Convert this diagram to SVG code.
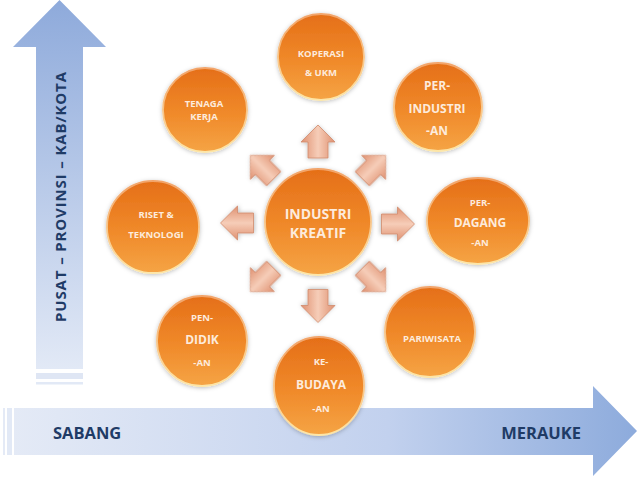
<svg xmlns="http://www.w3.org/2000/svg" width="638" height="479" viewBox="0 0 638 479">
<defs>
<linearGradient id="vg" x1="0" y1="0" x2="0" y2="1">
<stop offset="0" stop-color="#8eaadb"/>
<stop offset="1" stop-color="#e2e9f6"/>
</linearGradient>
<linearGradient id="hg" x1="0" y1="0" x2="1" y2="0">
<stop offset="0" stop-color="#e4eaf6"/>
<stop offset="0.6" stop-color="#c2d1ee"/>
<stop offset="1" stop-color="#8dabdc"/>
</linearGradient>
<linearGradient id="cg" x1="0" y1="0" x2="0" y2="1">
<stop offset="0" stop-color="#e56f18"/>
<stop offset="0.55" stop-color="#f08a2a"/>
<stop offset="1" stop-color="#f5a445"/>
</linearGradient>
<linearGradient id="cs" x1="0" y1="0" x2="0" y2="1">
<stop offset="0" stop-color="#f2a46a"/>
<stop offset="1" stop-color="#fde6a8"/>
</linearGradient>
<linearGradient id="ag" x1="0" y1="0" x2="1" y2="0">
<stop offset="0" stop-color="#df9070"/>
<stop offset="0.5" stop-color="#f6cdb8"/>
<stop offset="1" stop-color="#df9070"/>
</linearGradient>
<filter id="sh" x="-20%" y="-20%" width="140%" height="140%">
<feDropShadow dx="0" dy="1" stdDeviation="2" flood-color="#000" flood-opacity="0.25"/>
</filter>
<path id="arr" d="M0,-16.5 L17,0.5 L10,0.5 L10,16.5 L-10,16.5 L-10,0.5 L-17,0.5 Z"/>
</defs>
<style>
.c{fill:url(#cg);stroke:url(#cs);stroke-width:1.8;filter:url(#sh)}
.t{font-family:"Open Sans","Liberation Sans",sans-serif;font-weight:bold;fill:#fdebdc;text-anchor:middle;dominant-baseline:central}
.s{font-size:9.5px}
.m{font-size:12px}
.ax{font-family:"Open Sans","Liberation Sans",sans-serif;font-weight:bold;fill:#1f3b66;dominant-baseline:central}
.a{fill:url(#ag);stroke:#cf8a6c;stroke-width:0.8;filter:url(#sh)}
</style>
<rect width="638" height="479" fill="#ffffff"/>
<g id="axes">
<path d="M13,47 L59.5,0 L106,47 L83,47 L83,369 L36,369 L36,47 Z" fill="url(#vg)"/>
<rect x="36" y="373" width="47" height="6" fill="#dfe6f4"/>
<rect x="36" y="382" width="47" height="2.5" fill="#e2e9f6"/>
<path d="M14,408 L593,408 L593,386 L637,431 L593,476 L593,455 L14,455 Z" fill="url(#hg)"/>
<rect x="7" y="408" width="5" height="47" fill="#e2e9f6"/>
<rect x="3" y="408" width="2" height="47" fill="#e4eaf6"/>
<text class="ax" x="60" y="197" font-size="15" text-anchor="middle" transform="rotate(-90 60 197)" textLength="250">PUSAT – PROVINSI – KAB/KOTA</text>
<text class="ax" x="53" y="432" font-size="16.5">SABANG</text>
<text class="ax" x="581" y="432" font-size="16.5" text-anchor="end">MERAUKE</text>
</g>
<g id="connectors">
<use href="#arr" class="a" transform="translate(318,141.5)"/>
<use href="#arr" class="a" transform="translate(374,167) rotate(45)"/>
<use href="#arr" class="a" transform="translate(398,224) rotate(90)"/>
<use href="#arr" class="a" transform="translate(374,280) rotate(135)"/>
<use href="#arr" class="a" transform="translate(318,306) rotate(180)"/>
<use href="#arr" class="a" transform="translate(262,280) rotate(225)"/>
<use href="#arr" class="a" transform="translate(237,223) rotate(270)"/>
<use href="#arr" class="a" transform="translate(262,167) rotate(315)"/>
</g>
<g id="industri-kreatif">
<circle class="c" cx="318" cy="222" r="53"/>
<text class="t" x="318" y="213" font-size="14">INDUSTRI</text>
<text class="t" x="318" y="232" font-size="14">KREATIF</text>
</g>
<g id="koperasi">
<circle class="c" cx="321" cy="57" r="43"/>
<text class="t s" x="321" y="53">KOPERASI</text>
<text class="t s" x="321" y="72">&amp; UKM</text>
</g>
<g id="perindustrian">
<circle class="c" cx="438" cy="107" r="44"/>
<text class="t m" x="437" y="85" font-size="11">PER-</text>
<text class="t m" x="437" y="108">INDUSTRI</text>
<text class="t m" x="437" y="130" font-size="11">-AN</text>
</g>
<g id="tenaga-kerja">
<circle class="c" cx="205" cy="110" r="42"/>
<text class="t s" x="204" y="103">TENAGA</text>
<text class="t s" x="204" y="116">KERJA</text>
</g>
<g id="perdagangan">
<ellipse class="c" cx="478" cy="221" rx="51" ry="43"/>
<text class="t s" x="480" y="202">PER-</text>
<text class="t m" x="480" y="222">DAGANG</text>
<text class="t s" x="480" y="242">-AN</text>
</g>
<g id="riset">
<circle class="c" cx="153" cy="227" r="46"/>
<text class="t s" x="156" y="214">RISET &amp;</text>
<text class="t s" x="156" y="234">TEKNOLOGI</text>
</g>
<g id="pendidikan">
<circle class="c" cx="202" cy="341" r="45"/>
<text class="t s" x="202" y="317">PEN-</text>
<text class="t m" x="202" y="339">DIDIK</text>
<text class="t s" x="202" y="362">-AN</text>
</g>
<g id="kebudayaan">
<ellipse class="c" cx="319" cy="386" rx="45" ry="49"/>
<text class="t s" x="321" y="361">KE-</text>
<text class="t m" x="321" y="384">BUDAYA</text>
<text class="t s" x="321" y="408">-AN</text>
</g>
<g id="pariwisata">
<circle class="c" cx="430" cy="332" r="45"/>
<text class="t s" x="432" y="338">PARIWISATA</text>
</g>
</svg>
